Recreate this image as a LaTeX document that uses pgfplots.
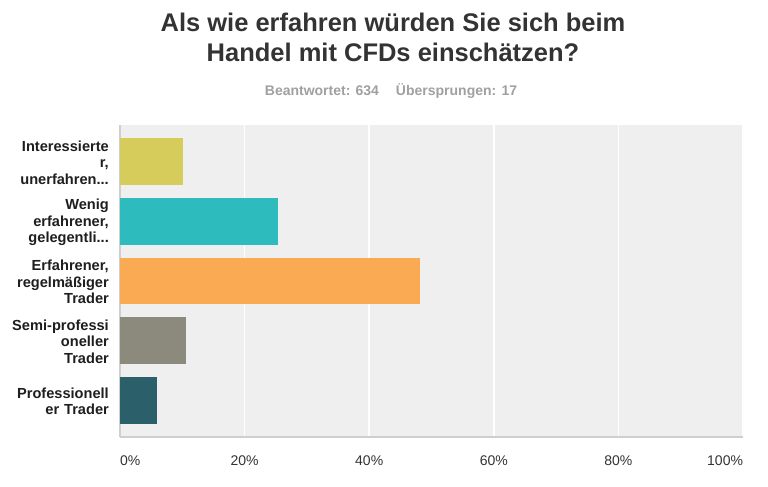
\documentclass[border=0pt]{standalone}
\usepackage{pgfplots}
\pgfplotsset{compat=1.18}
\usepackage{fontspec}
\setmainfont{Liberation Sans}
\definecolor{c1}{HTML}{D5CC5B}
\definecolor{c2}{HTML}{2DBBBD}
\definecolor{c3}{HTML}{FAAA52}
\definecolor{c4}{HTML}{8C8A7D}
\definecolor{c5}{HTML}{2B5F6A}
\definecolor{bgc}{HTML}{EFEFEF}
\definecolor{linec}{HTML}{CFCFCF}
\definecolor{titlec}{HTML}{333333}
\definecolor{subc}{HTML}{A0A0A0}
\definecolor{labc}{HTML}{1E1E1E}
\newcommand\tdots{...}
\begin{document}
\begin{tikzpicture}[x=1pt,y=1pt]
\useasboundingbox (0,0) rectangle (768,487);
\node[font=\fontsize{25.5}{30}\selectfont\bfseries, text=titlec, align=center] at (393,450) {Als wie erfahren würden Sie sich beim\\Handel mit CFDs einschätzen?};
\node[font=\fontsize{14}{16}\selectfont\bfseries, text=subc] at (391,396) {Beantwortet: 634\hspace{17pt}Übersprungen: 17};
\begin{axis}[
  at={(120pt,50pt)}, anchor=south west,
  width=623pt, height=312pt, scale only axis,
  xbar, bar width=46.7pt,
  xmin=0, xmax=100, ymin=-0.614, ymax=4.614, y dir=reverse,
  axis background/.style={fill=bgc},
  axis x line*=bottom, axis y line*=left,
  x axis line style={draw=linec, line width=1.5pt},
  y axis line style={draw=linec, line width=1.2pt},
  xmajorgrids, grid style={white, line width=1.5pt},
  major tick length=0pt,
  xtick={0,20,40,60,80,100},
  xticklabels={\makebox[0pt][l]{0\%},20\%,40\%,60\%,80\%,\makebox[0pt][r]{100\%}},
  xticklabel style={font=\fontsize{14}{16}\selectfont, text=titlec, yshift=-15pt},
  ytick={0,1,2,3,4},
  yticklabels={{Interessierte\\r,\\unerfahren\tdots},{Wenig\\erfahrener,\\gelegentli\tdots},{Erfahrener,\\regelmäßiger\\Trader},{Semi-professi\\oneller\\Trader},{Professionell\\er Trader}},
  yticklabel style={font=\fontsize{14.6}{16.5}\selectfont\bfseries, text=labc, text width=100pt, align=right, inner sep=0pt, xshift=-11pt, yshift=-1pt},
]
\addplot[fill=c1, draw=none, bar shift=0pt] coordinates {(10.1,0)};
\addplot[fill=c2, draw=none, bar shift=0pt] coordinates {(25.4,1)};
\addplot[fill=c3, draw=none, bar shift=0pt] coordinates {(48.1,2)};
\addplot[fill=c4, draw=none, bar shift=0pt] coordinates {(10.6,3)};
\addplot[fill=c5, draw=none, bar shift=0pt] coordinates {(5.9,4)};
\end{axis}
\end{tikzpicture}
\end{document}
